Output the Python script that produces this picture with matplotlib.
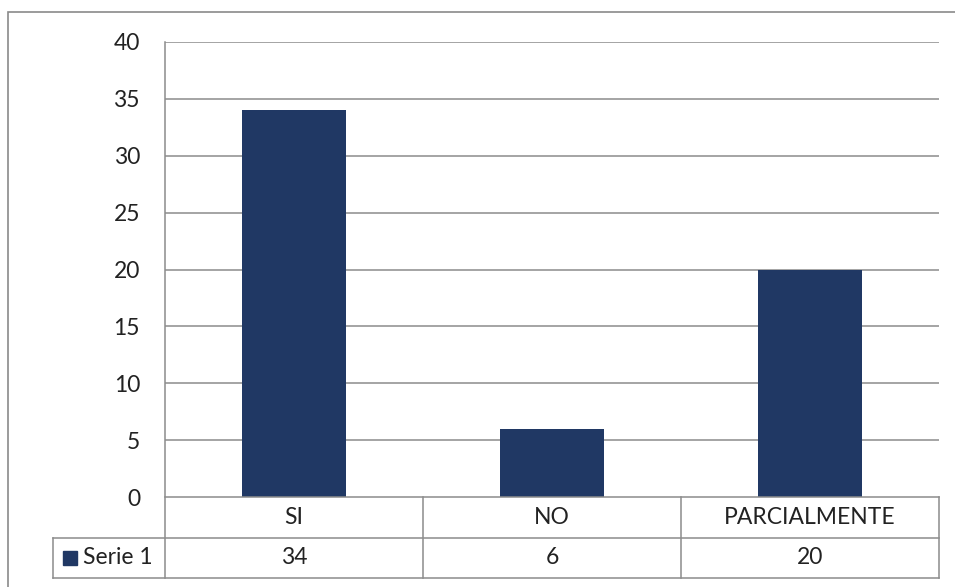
import matplotlib
matplotlib.use("Agg")
import matplotlib.pyplot as plt
from matplotlib.patches import Rectangle
from matplotlib.lines import Line2D

categories = ["SI", "NO", "PARCIALMENTE"]
values = [34, 6, 20]
series_name = "Serie 1"
yticks = [0, 5, 10, 15, 20, 25, 30, 35, 40]

W, H = 955, 587
plt.rcParams['font.family'] = ['Lato', 'DejaVu Sans']
fig = plt.figure(figsize=(W / 100, H / 100), dpi=100)

L, R, T, B = 165, 939, 42, 497
ax = fig.add_axes([L / W, 1 - B / H, (R - L) / W, (B - T) / H])
bar_color = "#203864"
grid_color = "#8c8c8c"
text_color = "#222222"
fs = 16.5

x = list(range(len(categories)))
ax.bar(x, values, width=0.4, color=bar_color, zorder=3)
ax.set_xlim(-0.5, len(categories) - 0.5)
ax.set_ylim(0, 40)
ax.set_yticks(yticks)
ax.set_yticklabels([str(t) for t in yticks], fontsize=fs, color=text_color)
ax.tick_params(axis='y', length=0, pad=18)
ax.set_xticks([])
for s in ax.spines.values():
    s.set_visible(False)
for t in yticks[1:]:
    ax.axhline(t, color=grid_color, lw=1.1, zorder=1)

# table in axes fraction coords
def fx(px):
    return (px - L) / (R - L)

def fy(py):
    return (B - py) / (B - T)

tr = ax.transAxes
def line(x0, y0, x1, y1):
    ax.add_line(Line2D([fx(x0), fx(x1)], [fy(y0), fy(y1)], transform=tr,
                       color=grid_color, lw=1.1, clip_on=False, zorder=4))

r1, r2, r3 = 497, 538, 578
tl = 53
line(L, T, L, r3)
line(L, r1, R, r1)
line(tl, r2, R, r2)
line(tl, r3, R, r3)
line(tl, r2, tl, r3)
n = len(categories)
cw = (R - L) / n
for i in range(1, n + 1):
    line(L + i * cw, r1, L + i * cw, r3)

for i, (c, v) in enumerate(zip(categories, values)):
    cx = L + (i + 0.5) * cw
    ax.text(fx(cx), fy((r1 + r2) / 2), c, transform=tr, ha='center', va='center',
            fontsize=fs, color=text_color, clip_on=False)
    ax.text(fx(cx), fy((r2 + r3) / 2), str(v), transform=tr, ha='center', va='center',
            fontsize=fs, color=text_color, clip_on=False)

# legend key in table
ax.add_patch(Rectangle((fx(63), fy(565)), fx(77) - fx(63), fy(551) - fy(565),
                       transform=tr, color=bar_color, clip_on=False))
ax.text(fx(83), fy((r2 + r3) / 2), series_name, transform=tr, ha='left', va='center',
        fontsize=fs, color=text_color, clip_on=False)

# outer chart border
fig.add_artist(Rectangle((8 / W, -0.05), 1.2, 1.05 - 12 / H, transform=fig.transFigure,
                         fill=False, edgecolor="#8a8a8a", lw=1.2))

fig.savefig("out.png", dpi=100)
